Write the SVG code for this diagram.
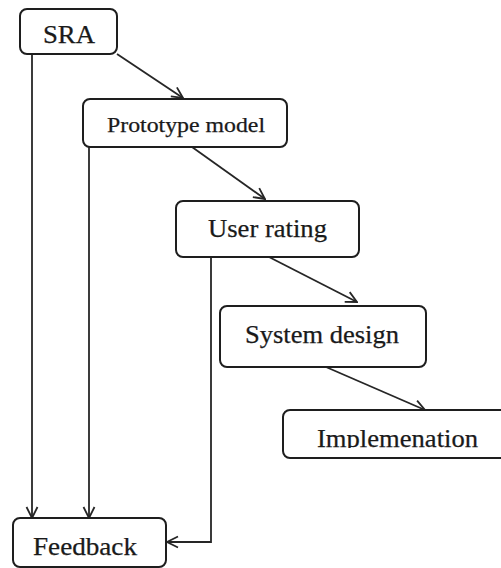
<svg xmlns="http://www.w3.org/2000/svg" width="501" height="568" viewBox="0 0 501 568">
  <style>
    .box { fill: #ffffff; stroke: #1e1e1e; stroke-width: 2; }
    .lbl { font-family: 'Liberation Serif', serif; font-size: 25px; fill: #1a1a1a; stroke: #1a1a1a; stroke-width: 0.25; }
    .edge { fill: none; stroke: #262626; stroke-width: 1.8; }
  </style>
  <defs>
    <marker id="open" markerUnits="userSpaceOnUse" markerWidth="14" markerHeight="14" viewBox="0 0 14 14" refX="13" refY="7" orient="auto">
      <path d="M2,1.5 L13,7 L2,12.5" fill="none" stroke="#262626" stroke-width="1.8"/>
    </marker>
    <clipPath id="implClip">
      <rect x="283" y="410" width="230" height="38"/>
    </clipPath>
  </defs>
  <rect width="501" height="568" fill="#ffffff"/>

  <g id="connectors">
    <line class="edge" x1="117" y1="54" x2="183" y2="98" marker-end="url(#open)"/>
    <line class="edge" x1="192" y1="147" x2="265" y2="199" marker-end="url(#open)"/>
    <line class="edge" x1="269" y1="257" x2="357" y2="302" marker-end="url(#open)"/>
    <line class="edge" x1="326" y1="367" x2="425" y2="410" marker-end="url(#open)"/>
    <line class="edge" x1="32" y1="54" x2="32" y2="518" marker-end="url(#open)"/>
    <line class="edge" x1="89" y1="147" x2="89" y2="518" marker-end="url(#open)"/>
    <polyline class="edge" points="211,257 211,542 167,542" marker-end="url(#open)"/>
  </g>

  <g id="sra">
    <rect class="box" x="20" y="9" width="97" height="45" rx="7"/>
    <text class="lbl" x="43" y="43" textLength="52" lengthAdjust="spacingAndGlyphs">SRA</text>
  </g>
  <g id="prototype-model">
    <rect class="box" x="83" y="99" width="204" height="48" rx="7"/>
    <text class="lbl" x="107" y="132" style="font-size:21px" textLength="158" lengthAdjust="spacingAndGlyphs">Prototype model</text>
  </g>
  <g id="user-rating">
    <rect class="box" x="176" y="201" width="183" height="56" rx="7"/>
    <text class="lbl" x="208" y="237" textLength="119" lengthAdjust="spacingAndGlyphs">User rating</text>
  </g>
  <g id="system-design">
    <rect class="box" x="220" y="306" width="206" height="61" rx="7"/>
    <text class="lbl" x="245" y="343" textLength="154" lengthAdjust="spacingAndGlyphs">System design</text>
  </g>
  <g id="implementation">
    <rect class="box" x="283" y="410" width="240" height="48" rx="7"/>
    <text class="lbl" x="317" y="447" textLength="161" lengthAdjust="spacingAndGlyphs" clip-path="url(#implClip)">Implemenation</text>
  </g>
  <g id="feedback">
    <rect class="box" x="13" y="518" width="153" height="49" rx="7"/>
    <text class="lbl" x="33" y="555" textLength="104" lengthAdjust="spacingAndGlyphs">Feedback</text>
  </g>
</svg>
